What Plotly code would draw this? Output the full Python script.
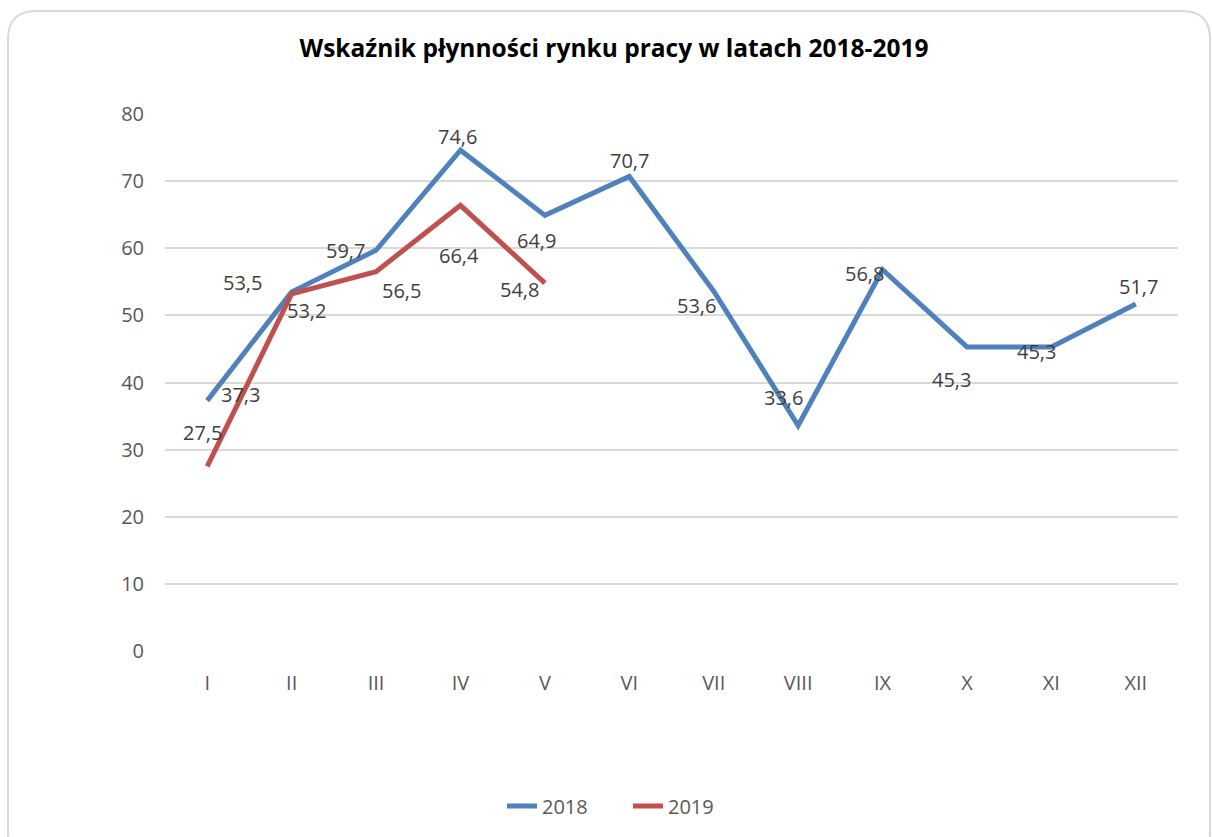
import plotly.graph_objects as go

months = ["I", "II", "III", "IV", "V", "VI", "VII", "VIII", "IX", "X", "XI", "XII"]
values_2018 = [37.3, 53.5, 59.7, 74.6, 64.9, 70.7, 53.6, 33.6, 56.8, 45.3, 45.3, 51.7]
values_2019 = [27.5, 53.2, 56.5, 66.4, 54.8]
y_ticks = [0, 10, 20, 30, 40, 50, 60, 70, 80]

# label offsets (pixels) mimicking the reference placement
off_2018 = [(33, 6), (-49, 9), (-31, 0), (-3, 14), (-8, -25), (0, 16),
            (-17, -14), (-15, 28), (-18, -4), (-15, -33), (-15, -5), (3, 17)]
off_2019 = [(-5, 34), (15, -17), (25, -19), (-1, -50), (-25, -6)]

FONT = "Open Sans"
C2018 = "#4F81BD"
C2019 = "#C0504D"

fig = go.Figure()
fig.add_trace(go.Scatter(x=months, y=values_2018, mode="lines", name="2018",
                         line=dict(color=C2018, width=5)))
fig.add_trace(go.Scatter(x=months[:len(values_2019)], y=values_2019, mode="lines", name="2019",
                         line=dict(color=C2019, width=5)))

def fmt(v):
    return f"{v:.1f}".replace(".", ",")

annotations = []
for m, v, (dx, dy) in zip(months, values_2018, off_2018):
    annotations.append(dict(x=m, y=v, text=fmt(v), showarrow=False, xshift=dx, yshift=dy,
                            font=dict(family=FONT, size=20, color="#404040")))
for m, v, (dx, dy) in zip(months, values_2019, off_2019):
    annotations.append(dict(x=m, y=v, text=fmt(v), showarrow=False, xshift=dx, yshift=dy,
                            font=dict(family=FONT, size=20, color="#404040")))

W, H = 1212, 837
ML, MR, MT, MB = 165, 34, 114, 186

fig.update_layout(
    width=W, height=H,
    margin=dict(l=ML, r=MR, t=MT, b=MB),
    paper_bgcolor="white", plot_bgcolor="white",
    title=dict(text="<b>Wskaźnik płynności rynku pracy w latach 2018-2019</b>",
               x=614 / W, xanchor="center", y=1 - 48 / H, yanchor="middle",
               font=dict(family=FONT, size=24.5, color="#000000")),
    xaxis=dict(type="category", range=[-0.5, 11.5], showgrid=False, showline=False, ticks="",
               ticklabelstandoff=18,
               tickfont=dict(family=FONT, size=20, color="#595959")),
    yaxis=dict(range=[0, 80], tickvals=y_ticks, showgrid=True, gridcolor="#D9D9D9",
               gridwidth=1.5, zeroline=False, showline=False, ticks="",
               ticklabelstandoff=20,
               tickfont=dict(family=FONT, size=20, color="#595959")),
    legend=dict(orientation="h", xref="container", yref="container",
                x=628 / W, xanchor="center", y=1 - 806 / H,
                yanchor="middle", font=dict(family=FONT, size=20, color="#595959"),
                itemwidth=30, entrywidth=81, entrywidthmode="pixels"),
    annotations=annotations,
    showlegend=True,
)

# rounded border, pixel coordinates converted to paper coordinates
x0, y0, x1, y1, r = 8, 11, 1210, 860, 28
pw = W - ML - MR
ph = H - MT - MB
def X(p): return f"{(p - ML) / pw:.5f}"
def Y(p): return f"{(H - MB - p) / ph:.5f}"
path = (f"M {X(x0+r)},{Y(y0)} L {X(x1-r)},{Y(y0)} Q {X(x1)},{Y(y0)} {X(x1)},{Y(y0+r)} "
        f"L {X(x1)},{Y(y1-r)} Q {X(x1)},{Y(y1)} {X(x1-r)},{Y(y1)} L {X(x0+r)},{Y(y1)} "
        f"Q {X(x0)},{Y(y1)} {X(x0)},{Y(y1-r)} L {X(x0)},{Y(y0+r)} Q {X(x0)},{Y(y0)} {X(x0+r)},{Y(y0)} Z")
fig.add_shape(type="path", path=path, xref="paper", yref="paper",
              line=dict(color="#D9D9D9", width=2), layer="below")

fig.write_html("out.html", config={"displayModeBar": False},
               post_script="document.body.style.margin='0';")
